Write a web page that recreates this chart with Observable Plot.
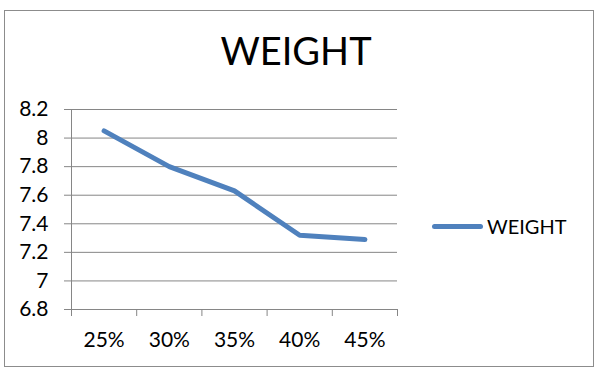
<!DOCTYPE html>
<html>
<head>
<meta charset="utf-8">
<script src="https://cdn.jsdelivr.net/npm/d3@7"></script>
<script src="https://cdn.jsdelivr.net/npm/@observablehq/plot@0.6"></script>
<style>
  html, body { margin: 0; padding: 0; background: #fff; }
  #wrap { position: relative; width: 600px; height: 372px; overflow: hidden; font-family: Lato, "Open Sans", sans-serif; }
  #border { position: absolute; left: 4px; top: 10px; width: 588px; height: 355px; border: 1px solid #8c8c8c; box-sizing: content-box; }
  #chart { position: absolute; left: 0; top: 0; }
  #title { position: absolute; left: 0; width: 592px; top: 28px; text-align: center; font-size: 38px; line-height: 1.2; color: #000; }
  #legend { position: absolute; left: 432px; top: 212px; height: 28px; display: flex; align-items: center; font-size: 20px; color: #000; }
  #legend .sw { width: 51px; height: 5px; border-radius: 3px; background: #4F81BD; margin-right: 4px; }
</style>
</head>
<body>
<div id="wrap">
  <div id="border"></div>
  <div id="chart"></div>
  <div id="title">WEIGHT</div>
  <div id="legend"><span class="sw"></span><span>WEIGHT</span></div>
</div>
<script>
const title = "WEIGHT";
const seriesName = "WEIGHT";
const categories = ["25%", "30%", "35%", "40%", "45%"];
const weight = [8.05, 7.80, 7.63, 7.32, 7.29];
const yTicks = [6.8, 7.0, 7.2, 7.4, 7.6, 7.8, 8.0, 8.2];

const data = categories.map((c, i) => ({cat: c, idx: i + 0.5, value: weight[i]}));
const edges = d3.range(categories.length + 1);
const centers = categories.map((_, i) => i + 0.5);
const grid = "#868686";

const chart = Plot.plot({
  width: 600,
  height: 372,
  marginLeft: 71,
  marginRight: 203,
  marginTop: 109,
  marginBottom: 63,
  style: {fontFamily: "Lato, 'Open Sans', sans-serif", fontSize: "21px", color: "#000", background: "transparent"},
  x: {type: "linear", domain: [0, categories.length], label: null},
  y: {domain: [6.8, 8.2], label: null},
  marks: [
    Plot.gridY(yTicks, {stroke: grid, strokeOpacity: 1, strokeWidth: 1}),
    Plot.axisY({ticks: yTicks, tickSize: 7, tickPadding: 16, stroke: grid, strokeOpacity: 1, label: null,
      tickFormat: d => String(+d.toFixed(1)), fontSize: 21, fill: "#000"}),
    Plot.ruleX([0], {stroke: grid, strokeWidth: 1}),
    Plot.axisX({ticks: edges, tickSize: 7, tickFormat: () => "", stroke: grid, strokeOpacity: 1, label: null}),
    Plot.axisX({ticks: centers, tickSize: 0, tickPadding: 23, label: null, tickFormat: i => categories[Math.floor(i)], fontSize: 21, fill: "#000"}),
    Plot.line(data, {x: "idx", y: "value", stroke: "#4F81BD", strokeWidth: 5, strokeLinecap: "round", strokeLinejoin: "round"})
  ]
});
document.getElementById("chart").appendChild(chart);
</script>
</body>
</html>
